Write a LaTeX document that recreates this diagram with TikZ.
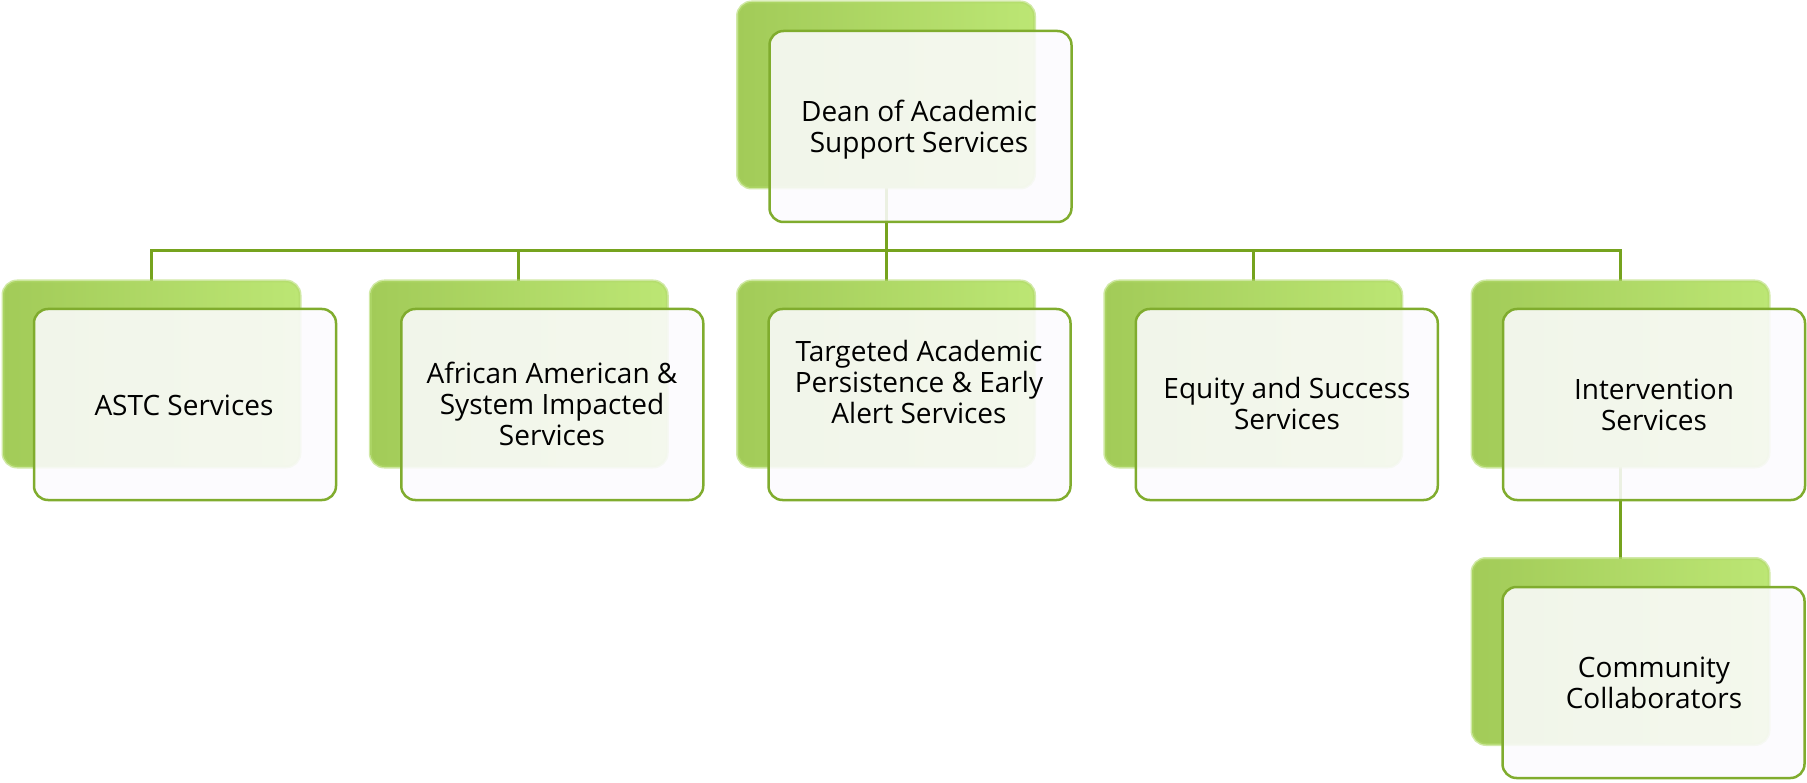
\documentclass[tikz,border=0pt]{standalone}
\usepackage{fontspec}
\setmainfont{Open Sans}
\usetikzlibrary{backgrounds}
\definecolor{conn}{HTML}{76A31E}
\definecolor{frontline}{HTML}{80AC2E}
\definecolor{backL}{HTML}{A2CB58}
\definecolor{backR}{HTML}{BCE674}
\definecolor{backline}{HTML}{B2DA6C}
\definecolor{frontfill}{HTML}{FCFBFE}
\begin{document}
\begin{tikzpicture}[x=1pt,y=-1pt,
  backbox/.style={rectangle, rounded corners=14pt, minimum width=297pt, minimum height=186pt,
    inner sep=0pt, outer sep=0pt, left color=backL, right color=backR,
    draw=backline, draw opacity=0.6, line width=3pt},
  frontbox/.style={rectangle, rounded corners=14pt, minimum width=302pt, minimum height=191pt,
    inner sep=0pt, outer sep=0pt, fill=frontfill, fill opacity=0.88, draw=frontline, draw opacity=1,
    line width=2.5pt},
  lbl/.style={align=center, font=\fontsize{28}{31}\selectfont, inner sep=0pt, text=black},
  connector/.style={draw=conn, line width=3pt}
]
\useasboundingbox (0,0) rectangle (1807,783);

% top
\node[backbox]  (b0) at (886,95) {};
\node[frontbox] (f0) at (920.5,126.5) {};
\node[lbl] (t0) at (919,129.5) {Dean of Academic\\Support Services};

% row
\node[backbox]  (b1) at (151.5,374) {};
\node[frontbox] (f1) at (185,404.5) {};
\node[lbl] (t1) at (184,405) {ASTC Services};

\node[backbox]  (b2) at (518.75,374) {};
\node[frontbox] (f2) at (552.25,404.5) {};
\node[lbl] (t2) at (552,403.5) {African American \&\\System Impacted\\Services};

\node[backbox]  (b3) at (886,374) {};
\node[frontbox] (f3) at (919.5,404.5) {};
\node[lbl] (t3) at (919,381.5) {Targeted Academic\\Persistence \& Early\\Alert Services};

\node[backbox]  (b4) at (1253.25,374) {};
\node[frontbox] (f4) at (1286.75,404.5) {};
\node[lbl] (t4) at (1287,403.5) {Equity and Success\\Services};

\node[backbox]  (b5) at (1620.5,374) {};
\node[frontbox] (f5) at (1654,404.5) {};
\node[lbl] (t5) at (1654,404.5) {Intervention\\Services};

% bottom
\node[backbox]  (b6) at (1620.5,651.5) {};
\node[frontbox] (f6) at (1653.5,682.5) {};
\node[lbl] (t6) at (1654,683) {Community\\Collaborators};

\coordinate (bus) at (886,251);
\begin{scope}[on background layer]
  \draw[connector] (b0.south) -- (b0.south |- bus);
  \draw[connector] (b1.north) |- (bus) -| (b5.north);
  \foreach \i in {2,3,4} \draw[connector] (bus -| b\i.north) -- (b\i.north);
  \draw[connector] (b5.south) -- (b6.north);
\end{scope}
\end{tikzpicture}
\end{document}
